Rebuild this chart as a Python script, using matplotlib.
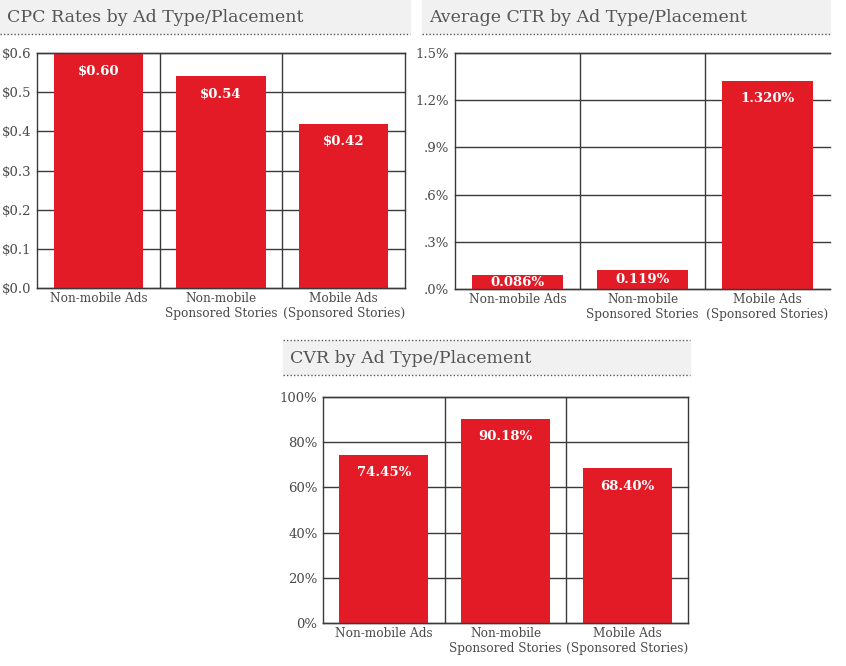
import matplotlib.pyplot as plt
from matplotlib.patches import Rectangle
from matplotlib.lines import Line2D

categories = ['Non-mobile Ads', 'Non-mobile\nSponsored Stories', 'Mobile Ads\n(Sponsored Stories)']

cpc_values = [0.60, 0.54, 0.42]
cpc_labels = ['$0.60', '$0.54', '$0.42']
cpc_ticks = [0.0, 0.1, 0.2, 0.3, 0.4, 0.5, 0.6]
cpc_ticklabels = ['$0.0', '$0.1', '$0.2', '$0.3', '$0.4', '$0.5', '$0.6']

ctr_values = [0.086, 0.119, 1.320]
ctr_labels = ['0.086%', '0.119%', '1.320%']
ctr_ticks = [0.0, 0.3, 0.6, 0.9, 1.2, 1.5]
ctr_ticklabels = ['.0%', '.3%', '.6%', '.9%', '1.2%', '1.5%']

cvr_values = [74.45, 90.18, 68.40]
cvr_labels = ['74.45%', '90.18%', '68.40%']
cvr_ticks = [0, 20, 40, 60, 80, 100]
cvr_ticklabels = ['0%', '20%', '40%', '60%', '80%', '100%']

W, H = 846, 666
RED = '#e31b27'
GRID = '#3a3a3a'
TXT = '#4a4a4a'
plt.rcParams['font.family'] = ['DejaVu Serif']

fig = plt.figure(figsize=(W / 100, H / 100), dpi=100)


def px_axes(left, top, right, bottom):
    return fig.add_axes([left / W, (H - bottom) / H, (right - left) / W, (bottom - top) / H])


def title_band(x0, x1, y0, y1, text, top_line=False):
    fig.patches.append(Rectangle((x0 / W, (H - y1) / H), (x1 - x0) / W, (y1 - y0) / H,
                                 transform=fig.transFigure, color='#f1f1f1', zorder=0))
    fig.text((x0 + 7) / W, (H - (y0 + y1) / 2 - 1) / H, text, fontsize=12.5, color='#555555',
             va='center', ha='left')
    ys = [y1 + 1]
    if top_line:
        ys.append(y0 - 1)
    for y in ys:
        fig.lines.append(Line2D([x0 / W, x1 / W], [(H - y) / H] * 2, transform=fig.transFigure,
                                color='#555555', lw=1, ls=(0, (1, 1.5))))


def bar_panel(ax, values, labels, ticks, ticklabels, ymax, right_spine=True):
    x = range(len(values))
    ax.bar(x, values, width=0.73, color=RED, zorder=2)
    ax.set_xlim(-0.5, 2.5)
    ax.set_ylim(0, ymax)
    ax.set_yticks(ticks)
    ax.set_yticklabels(ticklabels, fontsize=9.5, color=TXT)
    ax.set_xticks(list(x))
    ax.set_xticklabels(categories, fontsize=8.7, color=TXT, linespacing=1.15)
    ax.tick_params(length=0, pad=4)
    ax.tick_params(axis='x', pad=3)
    for t in ticks:
        ax.axhline(t, color=GRID, lw=1, zorder=1, clip_on=False)
    for v in [0.5, 1.5]:
        ax.axvline(v, color=GRID, lw=1, zorder=1)
    for s in ax.spines.values():
        s.set_color(GRID)
        s.set_linewidth(1)
    ax.spines['right'].set_visible(right_spine)
    for i, (v, lab) in enumerate(zip(values, labels)):
        if v / ymax > 0.15:
            ax.annotate(lab, (i, v), xytext=(0, -8), textcoords='offset points', ha='center',
                        va='top', color='white', fontsize=9.5, fontweight='bold', zorder=3)
        else:
            ax.text(i, v / 2, lab, ha='center', va='center', color='white', fontsize=9.5,
                    fontweight='bold', zorder=3)


title_band(0, 410, 0, 33, 'CPC Rates by Ad Type/Placement')
title_band(422, 830, 0, 33, 'Average CTR by Ad Type/Placement')
title_band(283, 690, 341, 374, 'CVR by Ad Type/Placement', top_line=True)

ax1 = px_axes(37, 53, 405, 288)
bar_panel(ax1, cpc_values, cpc_labels, cpc_ticks, cpc_ticklabels, 0.6)

ax2 = px_axes(455, 53, 830, 289)
bar_panel(ax2, ctr_values, ctr_labels, ctr_ticks, ctr_ticklabels, 1.5, right_spine=False)

ax3 = px_axes(323, 397, 688, 623)
bar_panel(ax3, cvr_values, cvr_labels, cvr_ticks, cvr_ticklabels, 100)

fig.savefig('out.png', dpi=100)
